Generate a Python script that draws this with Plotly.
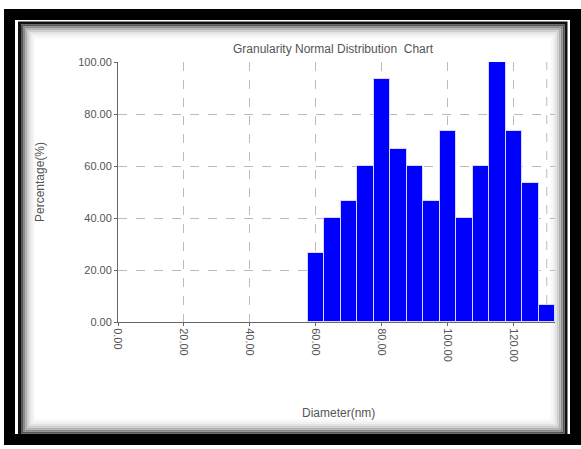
import plotly.graph_objects as go

# Data
diameters = [60, 65, 70, 75, 80, 85, 90, 95, 100, 105, 110, 115, 120, 125, 130]
percentages = [26.67, 40.00, 46.67, 60.00, 93.33, 66.67, 60.00, 46.67, 73.33,
               40.00, 60.00, 100.00, 73.33, 53.33, 6.67]
x_ticks = [0, 20, 40, 60, 80, 100, 120]
x_tick_labels = ["0.00", "20.00", "40.00", "60.00", "80.00", "100.00", "120.00"]
y_ticks = [0, 20, 40, 60, 80, 100]
y_tick_labels = ["0.00", "20.00", "40.00", "60.00", "80.00", "100.00"]

W, H = 581, 449
L, R, T, B = 118, 26, 62, 127
PW, PH = W - L - R, H - T - B


def px(x):
    return (x - L) / PW


def py(y):
    return (H - B - y) / PH


fig = go.Figure()
fig.add_trace(go.Bar(
    x=diameters, y=percentages, width=5,
    marker=dict(color="#0000FF", line=dict(color="#d8d8ff", width=1)),
    showlegend=False,
))

FONT = "Liberation Sans, Arial, sans-serif"
TXT = "#555555"

shapes = []
# outer thick black frame
shapes.append(dict(type="rect", xref="paper", yref="paper", layer="above",
                   x0=px(9.5), x1=px(575.5), y0=py(439.5), y1=py(14.5),
                   line=dict(color="black", width=11)))
# inner shadow gradient
grads = [("#111111", 3, 0), ("#555555", 2, 2.5), ("#8a8a8a", 2, 4.5), ("#b0b0b0", 2, 6.5),
         ("#cdcdcd", 2, 8.5), ("#e2e2e2", 2, 10.5), ("#f0f0f0", 2, 12.5), ("#f8f8f8", 2, 14.5)]
for col, w, d in grads:
    shapes.append(dict(type="rect", xref="paper", yref="paper", layer="below",
                       x0=px(19.5 + d), x1=px(566 - d), y0=py(435 - d), y1=py(23 + d),
                       line=dict(color=col, width=w)))
# extra dashed grid line at plot right edge
shapes.append(dict(type="line", xref="x", yref="paper", layer="below",
                   x0=130, x1=130, y0=0, y1=1,
                   line=dict(color="#bbbbbb", width=1, dash="dash")))

annotations = [
    dict(text="Granularity Normal Distribution  Chart", xref="paper", yref="paper",
         x=px(333), y=py(49), showarrow=False, font=dict(family=FONT, size=12, color=TXT),
         xanchor="center", yanchor="middle"),
    dict(text="Diameter(nm)", xref="paper", yref="paper",
         x=px(338), y=py(413), showarrow=False, font=dict(family=FONT, size=12, color=TXT),
         xanchor="center", yanchor="middle"),
    dict(text="Percentage(%)", xref="paper", yref="paper",
         x=px(40), y=py(182), showarrow=False, textangle=-90,
         font=dict(family=FONT, size=12, color=TXT),
         xanchor="center", yanchor="middle"),
]

fig.update_layout(
    width=W, height=H,
    margin=dict(l=L, r=R, t=T, b=B),
    paper_bgcolor="white", plot_bgcolor="white",
    bargap=0,
    shapes=shapes,
    annotations=annotations,
    xaxis=dict(range=[0, 132.5], tickvals=x_ticks, ticktext=x_tick_labels,
               tickangle=90, showgrid=True, gridcolor="#bbbbbb", griddash="dash",
               gridwidth=1, showline=True, linecolor="#666666", linewidth=1,
               ticks="outside", ticklen=3, tickcolor="#666666",
               tickfont=dict(family=FONT, size=11, color=TXT), zeroline=False),
    yaxis=dict(range=[0, 100], tickvals=y_ticks, ticktext=y_tick_labels,
               showgrid=True, gridcolor="#bbbbbb", griddash="dash", gridwidth=1,
               showline=True, linecolor="#666666", linewidth=1,
               ticks="outside", ticklen=3, tickcolor="#666666",
               tickfont=dict(family=FONT, size=11, color=TXT), zeroline=False),
)

fig.write_html("out.html", config={"displayModeBar": False},
               post_script="document.body.style.margin='0';document.body.style.overflow='hidden';")
